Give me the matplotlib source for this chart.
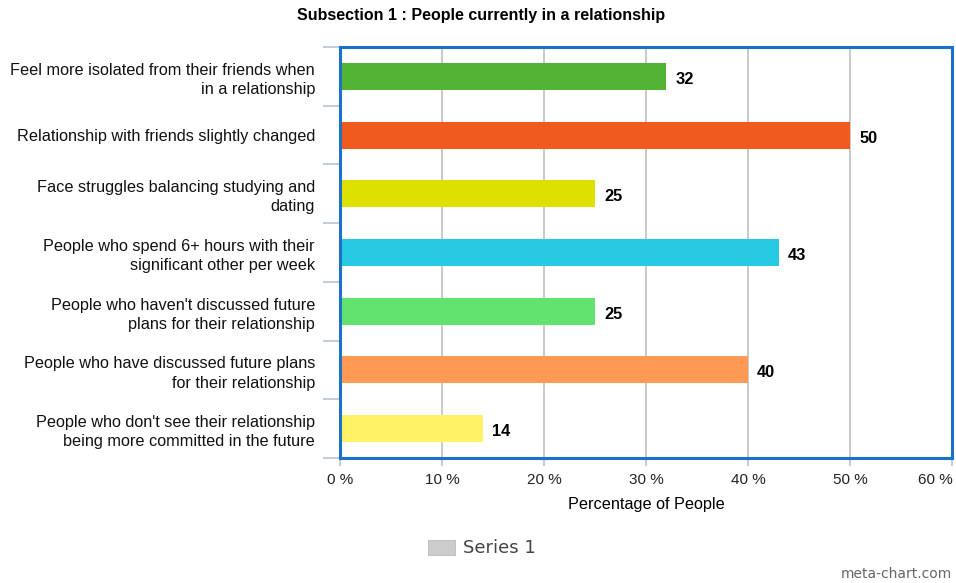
import matplotlib.pyplot as plt
from matplotlib.patches import Rectangle
from matplotlib.transforms import ScaledTranslation

plt.rcParams['font.family'] = ['Liberation Sans', 'DejaVu Sans']

categories = [
    "Feel more isolated from their friends when\nin a relationship",
    "Relationship with friends slightly changed",
    "Face struggles balancing studying and\ndating",
    "People who spend 6+ hours with their\nsignificant other per week",
    "People who haven't discussed future\nplans for their relationship",
    "People who have discussed future plans\nfor their relationship",
    "People who don't see their relationship\nbeing more committed in the future",
]
values = [32, 50, 25, 43, 25, 40, 14]
colors = ["#52b335", "#f05a1e", "#dee000", "#27c9e3", "#62e36f", "#ff9a55", "#fff264"]
xticks = [0, 10, 20, 30, 40, 50, 60]

fig = plt.figure(figsize=(9.56, 5.83), dpi=100)
ax = fig.add_axes([0.3556, 0.2144, 0.6402, 0.705])

pos = list(range(len(values)))
ax.barh(pos, values, height=0.46, color=colors, zorder=3)
for p, v in zip(pos, values):
    ax.text(v + 0.9, p + 0.05, str(v), va='center', ha='left', fontsize=11.8,
            fontweight='bold', color='black', zorder=4)

ax.set_xlim(0, 60)
ax.set_ylim(len(values) - 0.5, -0.5)
ax.set_xticks(xticks)
ax.set_xticklabels([f"{t} %" for t in xticks], fontsize=11, color='#222222')
ax.xaxis.grid(True, color='#c0c0c0', linewidth=1.2, zorder=1)
ax.tick_params(axis='x', length=6, width=1.2, color='#b8c4d4', pad=5)
# keep the last tick label inside the figure
last = ax.get_xticklabels()[-1]
last.set_transform(last.get_transform() + ScaledTranslation(-17 / 100, 0, fig.dpi_scale_trans))

# category labels, with separator ticks between rows
ax.set_yticks(pos)
ax.set_yticklabels(categories, fontsize=11.7, color='#111111', linespacing=1.35)
ax.tick_params(axis='y', length=0, pad=18)
ax.set_yticks([p - 0.5 for p in range(len(values) + 1)], minor=True)
ax.tick_params(axis='y', which='minor', length=12, width=1.2, color='#b8c4d4')

for s in ax.spines.values():
    s.set_color('#1a73c8')
    s.set_linewidth(2.2)
    s.set_zorder(5)

ax.set_xlabel("Percentage of People", fontsize=11.7, labelpad=7)
fig.text(0.503, 0.974, "Subsection 1 : People currently in a relationship",
         ha='center', va='center', fontsize=11.5, fontweight='bold')

# legend box
fig.patches.append(Rectangle((428 / 956, 1 - 555 / 583), 27 / 956, 15 / 583,
                             transform=fig.transFigure, facecolor='#cccccc',
                             edgecolor='#bbbbbb', linewidth=0.6))
fig.text(463 / 956, 1 - 548 / 583, "Series 1", ha='left', va='center',
         fontsize=13, color='#444444', family='DejaVu Sans')

fig.text(952 / 956, 1 - 574 / 583, "meta-chart.com", ha='right', va='center',
         fontsize=10, color='#666666', family='DejaVu Sans')

fig.savefig("out.png", dpi=100)
